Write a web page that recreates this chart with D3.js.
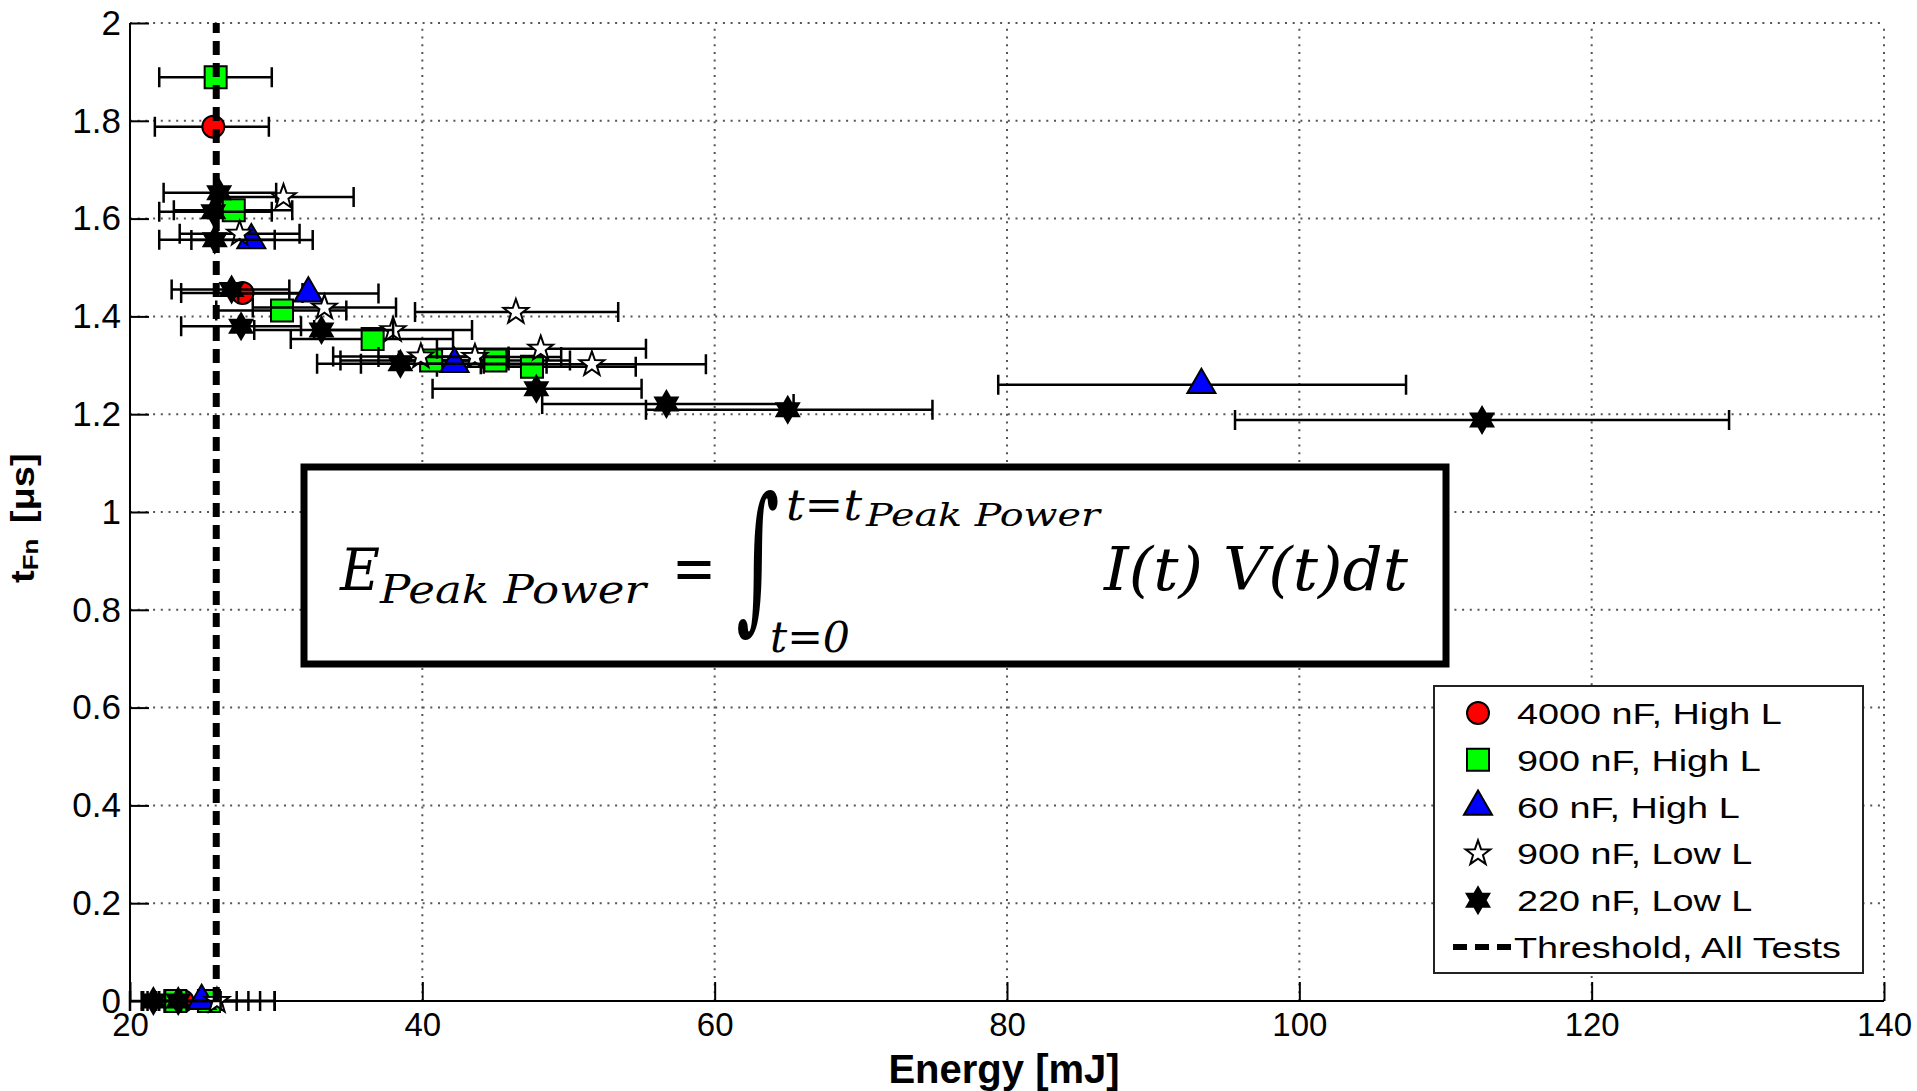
<!DOCTYPE html>
<html>
<head>
<meta charset="utf-8">
<script src="https://cdn.jsdelivr.net/npm/d3@7"></script>
<style>
  body { margin: 0; background: #fff; }
  svg { display: block; }
</style>
</head>
<body>
<div id="chart"></div>
<script>
// values: energy [mJ], t_Fn [us], errorbar ends [mJ]
const seriesNames = ['4000 nF, High L', '900 nF, High L', '60 nF, High L', '900 nF, Low L', '220 nF, Low L'];

const c4000HighE  = [25.7, 27.7, 23.6];
const c4000HighT  = [1.788, 1.448, 0];
const c4000HighLo = [21.7, 23.5, 21.2];
const c4000HighHi = [29.5, 31.8, 28.1];

const c900HighE  = [25.86, 27.1, 30.4, 36.6, 40.6, 45.0, 47.5, 23.1, 25.4];
const c900HighT  = [1.889, 1.617, 1.412, 1.354, 1.31, 1.31, 1.297, 0, 0];
const c900HighLo = [22.0, 23.0, 25.9, 31.0, 34.4, 38.4, 41.0, 20.9, 22.0];
const c900HighHi = [29.7, 31.1, 34.8, 42.1, 45.9, 50.1, 54.6, 27.3, 29.9];

const c60HighE  = [28.3, 32.2, 42.2, 93.3, 24.9];
const c60HighT  = [1.556, 1.447, 1.303, 1.26, 0];
const c60HighLo = [24.2, 27.4, 35.8, 79.4, 21.8];
const c60HighHi = [32.5, 37.0, 48.5, 107.3, 28.9];

const c900LowE  = [30.5, 27.5, 33.3, 38.0, 46.4, 39.9, 43.6, 48.1, 51.6, 25.95];
const c900LowT  = [1.644, 1.569, 1.418, 1.372, 1.409, 1.318, 1.317, 1.334, 1.302, 0];
const c900LowLo = [25.6, 23.4, 28.4, 32.6, 39.5, 33.9, 37.0, 41.0, 44.0, 22.4];
const c900LowHi = [35.3, 31.6, 38.2, 43.4, 53.4, 45.9, 49.5, 55.3, 59.4, 29.9];

const c220LowE  = [26.1, 25.7, 25.8, 26.95, 27.6, 33.1, 38.5, 47.8, 56.7, 65.0, 112.5, 21.6, 23.3];
const c220LowT  = [1.653, 1.614, 1.557, 1.455, 1.38, 1.372, 1.303, 1.252, 1.221, 1.209, 1.188, 0, 0];
const c220LowLo = [22.3, 22.0, 22.0, 22.85, 23.5, 28.5, 32.8, 40.7, 48.2, 55.3, 95.6, 20.0, 20.8];
const c220LowHi = [30.0, 29.7, 29.9, 30.9, 31.7, 38.0, 44.2, 55.0, 65.4, 74.9, 129.4, 23.5, 26.2];

const thresholdE = 25.9;
const thresholdLabel = 'Threshold, All Tests';

const xTicks = [20, 40, 60, 80, 100, 120, 140];
const yTicks = [0, 0.2, 0.4, 0.6, 0.8, 1, 1.2, 1.4, 1.6, 1.8, 2];

// star shaped markers (matlab 'p' and 'h'), size = radius^2
function starType(points, inner) {
  return {
    draw(context, size) {
      const r = Math.sqrt(size);
      for (let i = 0; i < points * 2; i++) {
        const rr = i % 2 ? r * inner : r;
        const a = Math.PI * i / points - Math.PI / 2;
        if (i === 0) context.moveTo(rr * Math.cos(a), rr * Math.sin(a));
        else context.lineTo(rr * Math.cos(a), rr * Math.sin(a));
      }
      context.closePath();
    }
  };
}

const series = [
  {E: c4000HighE, T: c4000HighT, lo: c4000HighLo, hi: c4000HighHi, type: d3.symbolCircle, size: 380, fill: '#ff0000'},
  {E: c900HighE, T: c900HighT, lo: c900HighLo, hi: c900HighHi, type: d3.symbolSquare, size: 484, fill: '#00ff00'},
  {E: c60HighE, T: c60HighT, lo: c60HighLo, hi: c60HighHi, type: d3.symbolTriangle, size: 340, fill: '#0000ff'},
  {E: c900LowE, T: c900LowT, lo: c900LowLo, hi: c900LowHi, type: starType(5, 0.4), size: 169, fill: '#ffffff'},
  {E: c220LowE, T: c220LowT, lo: c220LowLo, hi: c220LowHi, type: starType(6, 0.577), size: 169, fill: '#000000'}
];
series.forEach((s, i) => { s.name = seriesNames[i]; });

var scatterChart = function() {
  let width = 1917;
  let height = 1091;
  let plot = {left: 130, right: 1884, top: 23, bottom: 1001};
  let tickLen = 19;
  let capHalf = 10;

  function chart(selection) {
    const svg = selection.append('svg')
      .attr('width', width)
      .attr('height', height)
      .attr('font-family', 'Liberation Sans, Arial, sans-serif');

    svg.append('rect').attr('width', width).attr('height', height).attr('fill', '#fff');

    const x = d3.scaleLinear().domain([20, 140]).range([plot.left, plot.right]);
    const y = d3.scaleLinear().domain([0, 2]).range([plot.bottom, plot.top]);

    // dotted grid
    const grid = svg.append('g')
      .attr('stroke', '#555')
      .attr('stroke-width', 2)
      .attr('stroke-dasharray', '2,5.7');
    grid.selectAll('.gx')
      .data(xTicks.slice(1))
      .join('line')
        .attr('x1', d => x(d)).attr('x2', d => x(d))
        .attr('y1', plot.bottom).attr('y2', plot.top);
    grid.selectAll('.gy')
      .data(yTicks.slice(1))
      .join('line')
        .attr('x1', plot.left).attr('x2', plot.right)
        .attr('y1', d => y(d)).attr('y2', d => y(d));

    // axes, ticks pointing inward
    const xAxis = svg.append('g')
      .attr('transform', `translate(0,${plot.bottom})`)
      .call(d3.axisBottom(x).tickValues(xTicks).tickSize(-tickLen).tickPadding(12).tickFormat(d3.format('d')));
    const yAxis = svg.append('g')
      .attr('transform', `translate(${plot.left},0)`)
      .call(d3.axisLeft(y).tickValues(yTicks).tickSize(-tickLen).tickPadding(9).tickFormat(d => String(d)));
    [xAxis, yAxis].forEach(a => {
      a.select('.domain').attr('stroke', '#000').attr('stroke-width', 2);
      a.selectAll('.tick line').attr('stroke', '#000').attr('stroke-width', 2);
      a.selectAll('.tick text')
        .attr('fill', '#000')
        .attr('font-family', 'Liberation Sans, Arial, sans-serif');
    });
    xAxis.selectAll('.tick text').attr('font-size', 33);
    yAxis.selectAll('.tick text').attr('font-size', 35);
    xAxis.select('.domain').attr('d', `M${plot.left},0H${plot.right}`);
    yAxis.select('.domain').attr('d', `M0,${plot.top}V${plot.bottom}`);

    // axis titles
    svg.append('text')
      .attr('x', 1004)
      .attr('y', 1083)
      .attr('text-anchor', 'middle')
      .attr('font-weight', 'bold')
      .attr('font-size', 40)
      .text('Energy [mJ]');

    const yTitle = svg.append('text')
      .attr('transform', 'translate(34,583) rotate(-90) scale(1.12,1)')
      .attr('font-weight', 'bold')
      .attr('font-size', 34);
    yTitle.append('tspan').text('t');
    yTitle.append('tspan').attr('font-size', 23).attr('dy', 4).text('Fn');
    yTitle.append('tspan').attr('dy', -4).attr('dx', 14).text('[μs]');

    // formula box
    const fx = svg.append('g')
      .attr('font-family', 'DejaVu Serif, Liberation Serif, serif')
      .attr('font-style', 'italic')
      .attr('fill', '#000');
    fx.append('rect')
      .attr('x', 304).attr('y', 467)
      .attr('width', 1142).attr('height', 197)
      .attr('fill', '#fff')
      .attr('stroke', '#000')
      .attr('stroke-width', 7);
    const formulaText = (t, px, py, size, len, style) => {
      const el = fx.append('text')
        .attr('x', px).attr('y', py)
        .attr('font-size', size)
        .text(t);
      if (len) el.attr('textLength', len).attr('lengthAdjust', 'spacingAndGlyphs');
      if (style) el.attr('font-style', style);
      return el;
    };
    formulaText('E', 340, 590, 58, 40);
    formulaText('Peak Power', 380, 603, 40, 266);
    formulaText('=', 672, 590, 64, 44, 'normal');
    formulaText('t=t', 786, 520, 42, 76);
    formulaText('Peak Power', 866, 526, 32, 234);
    formulaText('t=0', 770, 652, 42, 80);
    formulaText('I(t) V(t)dt', 1104, 590, 60, 304);

    // integral sign fitted to its box via canvas glyph metrics
    const ctx = document.createElement('canvas').getContext('2d');
    ctx.font = '100px "DejaVu Serif"';
    const m = ctx.measureText('∫');
    const gh = m.actualBoundingBoxAscent + m.actualBoundingBoxDescent;
    const gw = m.actualBoundingBoxLeft + m.actualBoundingBoxRight;
    const sy = 152 / gh;
    const sx = 40 / gw;
    fx.append('text')
      .attr('transform', `translate(${738 + m.actualBoundingBoxLeft * sx},${489 + m.actualBoundingBoxAscent * sy}) scale(${sx},${sy})`)
      .attr('font-size', 100)
      .attr('font-style', 'normal')
      .text('∫');

    // data: error bars under own markers, later series drawn on top
    series.forEach(s => {
      const pts = s.E.map((e, i) => ({e: e, t: s.T[i], lo: s.lo[i], hi: s.hi[i]}));
      const g = svg.append('g');
      g.append('g')
        .attr('stroke', '#000')
        .attr('stroke-width', 2.5)
        .attr('fill', 'none')
        .selectAll('path')
        .data(pts)
        .join('path')
          .attr('d', d => `M${x(d.lo)},${y(d.t)}H${x(d.hi)}` +
            `M${x(d.lo)},${y(d.t) - capHalf}V${y(d.t) + capHalf}` +
            `M${x(d.hi)},${y(d.t) - capHalf}V${y(d.t) + capHalf}`);
      g.append('g')
        .selectAll('path')
        .data(pts)
        .join('path')
          .attr('transform', d => `translate(${x(d.e)},${y(d.t)})`)
          .attr('d', d3.symbol(s.type, s.size))
          .attr('fill', s.fill)
          .attr('stroke', '#000')
          .attr('stroke-width', 2);
    });

    // threshold line
    svg.append('line')
      .attr('x1', x(thresholdE)).attr('x2', x(thresholdE))
      .attr('y1', y(0)).attr('y2', y(2))
      .attr('stroke', '#000')
      .attr('stroke-width', 7)
      .attr('stroke-dasharray', '14,8');

    // legend
    const legend = svg.append('g');
    legend.append('rect')
      .attr('x', 1434).attr('y', 686)
      .attr('width', 429).attr('height', 287)
      .attr('fill', '#fff')
      .attr('stroke', '#222')
      .attr('stroke-width', 2);
    const rowY = d3.scaleLinear().domain([0, 5]).range([713, 947]);
    const item = legend.selectAll('g.item')
      .data(series)
      .join('g')
        .attr('class', 'item')
        .attr('transform', (d, i) => `translate(0,${rowY(i)})`);
    item.append('path')
      .attr('transform', 'translate(1478,0)')
      .attr('d', d => d3.symbol(d.type, d.size)())
      .attr('fill', d => d.fill)
      .attr('stroke', '#000')
      .attr('stroke-width', 2);
    item.append('text')
      .attr('transform', 'translate(1517,11) scale(1.26,1)')
      .attr('font-size', 30)
      .text(d => d.name);
    const th = legend.append('g').attr('transform', `translate(0,${rowY(5)})`);
    th.append('line')
      .attr('x1', 1453).attr('x2', 1511)
      .attr('stroke', '#000')
      .attr('stroke-width', 6)
      .attr('stroke-dasharray', '14,8');
    th.append('text')
      .attr('transform', 'translate(1514,11) scale(1.26,1)')
      .attr('font-size', 30)
      .text(thresholdLabel);
  }

  return chart;
};

d3.select('#chart').call(scatterChart());
</script>
</body>
</html>
